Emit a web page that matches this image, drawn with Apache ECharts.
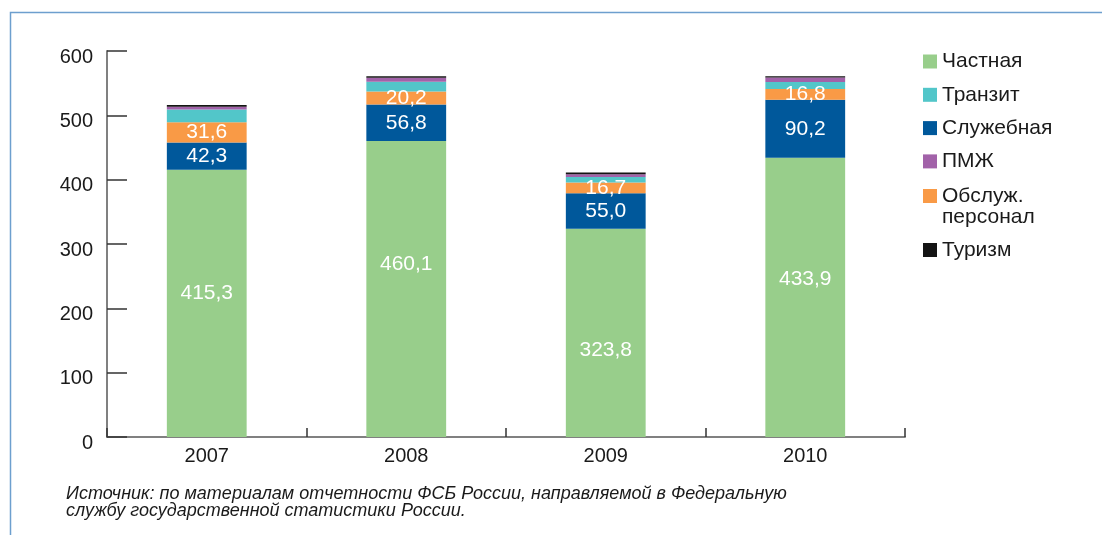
<!DOCTYPE html>
<html lang="ru">
<head>
    <meta charset="utf-8">
    <title>Иностранцы по целям поездки</title>
    <script type="text/javascript" src="https://cdn.jsdelivr.net/npm/echarts@6/dist/echarts.min.js"></script>
    <style>
        html, body { margin: 0; padding: 0; background: #fff; }
        #chart { width: 1102px; height: 535px; }
    </style>
</head>
<body>
    <div id="chart"></div>

    <script type="text/javascript" charset="utf-8">
        // данные
        var years = ['2007', '2008', '2009', '2010'];
        var chastnaya = [415.3, 460.1, 323.8, 433.9];
        var sluzhebnaya = [42.3, 56.8, 55.0, 90.2];
        var obsluzh = [31.6, 20.2, 16.7, 16.8];
        var tranzit = [19.7, 15.0, 8.8, 11.0];
        var pmzh = [4.6, 6.5, 4.2, 7.0];
        var turizm = [2.5, 2.0, 2.5, 2.0];
        var yTicks = [0, 100, 200, 300, 400, 500, 600];
        var sourceNote = 'Источник: по материалам отчетности ФСБ России, направляемой в Федеральную\nслужбу государственной статистики России.';

        // подписи зеленых столбцов сдвинуты по вертикали как в оригинале
        var greenLabelShift = [-10, -25, 17, -18];

        var font = "'Liberation Sans', Arial, Helvetica, sans-serif";

        function fmt(p) {
            return p.value.toFixed(1).replace('.', ',');
        }

        function bar(name, data, color, withLabel) {
            return {
                name: name,
                type: 'bar',
                stack: 'total',
                barWidth: '40%',
                data: data,
                itemStyle: { color: color },
                label: {
                    show: withLabel,
                    position: 'inside',
                    color: '#fff',
                    fontSize: 21,
                    fontFamily: font,
                    formatter: fmt
                }
            };
        }

        var green = bar('Частная', chastnaya.map(function (v, i) {
            return { value: v, label: { offset: [0, greenLabelShift[i]] } };
        }), '#98ce8b', true);

        var legendText = { fontSize: 21, fontFamily: font, color: '#1a1a1a', lineHeight: 21 };

        var myChart = echarts.init(document.getElementById('chart'));
        myChart.setOption({
            animation: false,
            textStyle: { fontFamily: font },
            title: {
                text: sourceNote,
                left: 66,
                top: 485.5,
                padding: 0,
                textStyle: {
                    fontSize: 18,
                    fontStyle: 'italic',
                    fontWeight: 'normal',
                    color: '#1a1a1a',
                    lineHeight: 17,
                    fontFamily: font
                }
            },
            graphic: [{
                type: 'polyline',
                shape: { points: [[10.5, 535], [10.5, 12.5], [1102, 12.5]] },
                style: { stroke: '#6d9fce', lineWidth: 1.5, fill: null }
            }],
            legend: [{
                orient: 'vertical',
                left: 923,
                top: 51,
                padding: 0,
                itemWidth: 14,
                itemHeight: 14,
                itemGap: 12.3,
                icon: 'rect',
                selectedMode: false,
                textStyle: legendText,
                data: ['Частная', 'Транзит', 'Служебная', 'ПМЖ']
            }, {
                // пустая первая строка, чтобы квадрат стоял напротив «Обслуж.»
                orient: 'vertical',
                left: 923,
                top: 164.5,
                padding: 0,
                itemWidth: 14,
                itemHeight: 14,
                icon: 'rect',
                selectedMode: false,
                textStyle: legendText,
                formatter: function () { return ' \nОбслуж.\nперсонал'; },
                data: ['Обслуж. персонал']
            }, {
                orient: 'vertical',
                left: 923,
                top: 239.5,
                padding: 0,
                itemWidth: 14,
                itemHeight: 14,
                icon: 'rect',
                selectedMode: false,
                textStyle: legendText,
                data: ['Туризм']
            }],
            grid: {
                left: 107,
                right: 197,
                top: 51,
                bottom: 98
            },
            xAxis: {
                type: 'category',
                data: years,
                axisLine: { lineStyle: { color: '#808080', width: 2 } },
                axisTick: {
                    show: true,
                    inside: true,
                    length: 9,
                    lineStyle: { color: '#333', width: 1.5 }
                },
                axisLabel: { fontSize: 20, color: '#1a1a1a', margin: 9, fontFamily: font }
            },
            yAxis: {
                type: 'value',
                min: yTicks[0],
                max: yTicks[yTicks.length - 1],
                interval: 100,
                axisLine: { show: true, lineStyle: { color: '#808080', width: 2 } },
                axisTick: {
                    show: true,
                    inside: true,
                    length: 20,
                    lineStyle: { color: '#333', width: 1.5 }
                },
                splitLine: { show: false },
                axisLabel: {
                    fontSize: 20,
                    color: '#1a1a1a',
                    margin: 14,
                    verticalAlign: 'top',
                    lineHeight: 12,
                    fontFamily: font
                }
            },
            series: [
                green,
                bar('Служебная', sluzhebnaya, '#00589b', true),
                bar('Обслуж. персонал', obsluzh, '#f99a46', true),
                bar('Транзит', tranzit, '#52c6c9', false),
                bar('ПМЖ', pmzh, '#a262a9', false),
                bar('Туризм', turizm, '#141414', false)
            ]
        });
    </script>
</body>
</html>
